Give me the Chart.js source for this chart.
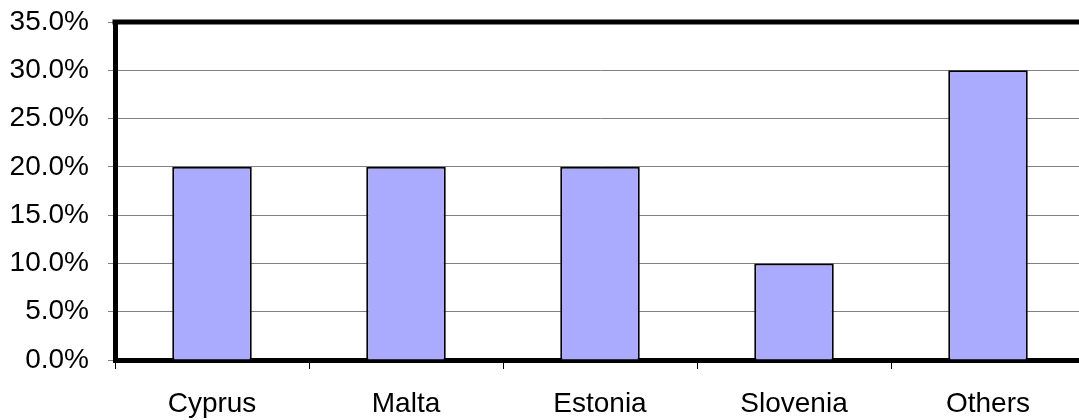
<!DOCTYPE html>
<html>
<head>
<meta charset="utf-8">
<script src="https://cdn.jsdelivr.net/npm/chart.js@4/dist/chart.umd.min.js"></script>
<style>
  html, body { margin: 0; padding: 0; background: #fff; overflow: hidden; }
  #wrap { width: 1079px; height: 420px; overflow: hidden; }
</style>
</head>
<body>
<div id="wrap"><canvas id="chart" width="1085" height="420"></canvas></div>
<script>
// chart data
const categories = ['Cyprus', 'Malta', 'Estonia', 'Slovenia', 'Others'];
const shares = [0.20, 0.20, 0.20, 0.10, 0.30];
const yMax = 0.35;
const yStep = 0.05;

const FONT = { family: '"Liberation Sans", Arial, sans-serif', size: 28 };

// thick frame line along the top of the plot area
const topBorder = {
  id: 'topBorder',
  afterDraw(chart) {
    const a = chart.chartArea;
    const ctx = chart.ctx;
    ctx.save();
    ctx.fillStyle = '#000';
    ctx.fillRect(a.left - 2.5, a.top - 2.5, a.right - a.left + 5, 5);
    ctx.restore();
  }
};

new Chart(document.getElementById('chart'), {
  type: 'bar',
  data: {
    labels: categories,
    datasets: [{
      data: shares,
      backgroundColor: '#AAAAFF',
      borderColor: '#000',
      borderWidth: 2,
      barPercentage: 0.41,
      categoryPercentage: 1
    }]
  },
  options: {
    responsive: false,
    animation: false,
    layout: { padding: { top: 22, left: 0, right: 0, bottom: 0 } },
    plugins: { legend: { display: false }, tooltip: { enabled: false } },
    scales: {
      x: {
        afterFit(s) { s.height = 60; s.paddingLeft = 0; s.paddingRight = 0; },
        grid: { display: true, drawOnChartArea: false, drawTicks: true, tickLength: 9, color: '#000', lineWidth: 1 },
        border: { display: true, color: '#000', width: 5 },
        ticks: { color: '#000', padding: 18, font: FONT }
      },
      y: {
        min: 0,
        max: yMax,
        afterFit(s) { s.width = 115; s.paddingTop = 0; s.paddingBottom = 0; },
        grid: { color: '#808080', lineWidth: 1, drawTicks: true, tickLength: 7 },
        border: { display: true, color: '#000', width: 5 },
        ticks: {
          stepSize: yStep,
          color: '#000',
          padding: 19,
          font: FONT,
          callback: v => (v * 100).toFixed(1) + '%'
        }
      }
    }
  },
  plugins: [topBorder]
});
</script>
</body>
</html>
